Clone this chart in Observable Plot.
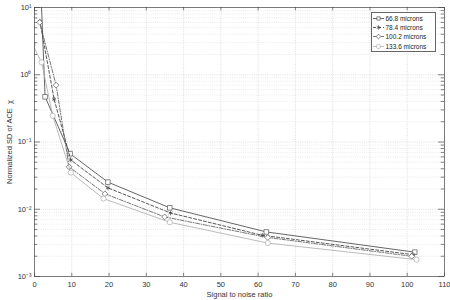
<!DOCTYPE html>
<html>
<head>
<meta charset="utf-8">
<script src="https://cdn.jsdelivr.net/npm/d3@7"></script>
<script src="https://cdn.jsdelivr.net/npm/@observablehq/plot@0.6"></script>
<style>
  html, body { margin: 0; padding: 0; background: #fff; }
  #wrap { position: relative; width: 450px; height: 300px; font-family: "Liberation Sans", Arial, sans-serif; }
  #legend { position: absolute; left: 371px; top: 12px; width: 63px; height: 38px; border: 1px solid #666; background: #fff; font-size: 6.5px; color: #222; }
  .lrow { position: absolute; left: 0; height: 9px; display: flex; align-items: center; }
  .lrow svg { margin-left: 1px; }
  .lrow span { margin-left: 1.5px; }
</style>
</head>
<body>
<div id="wrap"></div>
<script>
// ---- data ----
const seriesNames = ["66.8 microns", "78.4 microns", "100.2 microns", "133.6 microns"];
const snr66  = [1.6, 2.84, 9.55, 19.7, 36.3, 62.2, 102];
const sd66   = [25, 0.47, 0.067, 0.0253, 0.0105, 0.0046, 0.0023];
const snr78  = [1.44, 5.26, 9.73, 19.7, 36.5, 61.1, 101.6];
const sd78   = [6.25, 0.434, 0.054, 0.0208, 0.0088, 0.0041, 0.00211];
const snr100 = [1.4, 5.8, 9.28, 18.9, 34.9, 62.6, 101.2];
const sd100  = [6.0, 0.70, 0.0427, 0.017, 0.0077, 0.0038, 0.0020];
const snr133 = [-0.5, 1.9, 4.9, 9.75, 18.5, 36.3, 62.6, 102.5];
const sd133  = [2.8, 1.53, 0.245, 0.035, 0.0144, 0.0064, 0.00314, 0.00178];
const xTicks = [0, 10, 20, 30, 40, 50, 60, 70, 80, 90, 100, 110];
const yTicks = [1e-3, 1e-2, 1e-1, 1, 10];

const styles = [
  {stroke: "#555", dash: null, symbol: "square", width: 0.9},
  {stroke: "#444", dash: "3,2", symbol: "asterisk", width: 0.9},
  {stroke: "#555", dash: "4,1.5,1,1.5", symbol: "diamond2", width: 0.8},
  {stroke: "#aaa", dash: null, symbol: "circle", width: 0.8}
];
const xs = [snr66, snr78, snr100, snr133];
const ys = [sd66, sd78, sd100, sd133];
const tables = xs.map((x, i) => x.map((v, j) => ({snr: v, sd: ys[i][j], series: seriesNames[i]})));

const sup = {"-": "\u207B", "0": "\u2070", "1": "\u00B9", "2": "\u00B2", "3": "\u00B3"};
const fmt = d => "10" + String(Math.round(Math.log10(d))).split("").map(c => sup[c]).join("");
const minor = d3.scaleLog().domain([1e-3, 10]).ticks();
const isMajor = d => yTicks.some(t => Math.abs(t - d) / t < 1e-9);

const marks = [
  Plot.ruleX(xTicks.slice(1, -1), {stroke: "#c8c8c8", strokeDasharray: "1,1.2", strokeWidth: 0.6}),
  Plot.ruleY(minor.filter(d => !isMajor(d)), {stroke: "#dedede", strokeDasharray: "1,1.2", strokeWidth: 0.6}),
  Plot.ruleY(yTicks.slice(1, -1), {stroke: "#c8c8c8", strokeDasharray: "1,1.2", strokeWidth: 0.6}),
  Plot.axisX({ticks: xTicks, tickSize: 0, tickPadding: 5, label: "Signal to noise ratio", labelAnchor: "center", labelArrow: "none", labelOffset: 20, fontSize: 7.5}),
  Plot.axisY({ticks: yTicks, tickFormat: fmt, tickSize: 0, tickPadding: 3, label: "Normalized SD of ACE  \u03C7", labelAnchor: "center", labelArrow: "none", labelOffset: 28, fontSize: 7.5}),
  Plot.ruleX(xTicks, {x: d => d, y1: 1e-3, y2: 1e-3 * 1.12, stroke: "#333", strokeWidth: 0.6}),
  Plot.ruleX(xTicks, {x: d => d, y1: 10, y2: 10 / 1.12, stroke: "#333", strokeWidth: 0.6}),
  Plot.ruleY(minor, {y: d => d, x1: 0, x2: d => isMajor(d) ? 1.6 : 0.9, stroke: "#333", strokeWidth: 0.6}),
  Plot.ruleY(minor, {y: d => d, x1: 110, x2: d => isMajor(d) ? 108.4 : 109.1, stroke: "#333", strokeWidth: 0.6})
];
tables.forEach((t, i) => {
  const s = styles[i];
  marks.push(Plot.line(t, {x: "snr", y: "sd", stroke: s.stroke, strokeWidth: s.width, strokeDasharray: s.dash, clip: true}));
  marks.push(Plot.dot(t, {x: "snr", y: "sd", symbol: () => s.symbol, stroke: s.stroke, fill: i === 1 ? s.stroke : "white", strokeWidth: 0.7, r: i === 1 ? 2.2 : 2.6, clip: true}));
});
marks.push(Plot.frame({stroke: "#444", strokeWidth: 0.7}));

const chart = Plot.plot({
  width: 450, height: 300,
  marginLeft: 34, marginRight: 6, marginTop: 7, marginBottom: 24,
  style: {fontFamily: "'Liberation Sans', Arial, sans-serif", fontSize: "7.5px", color: "#333", background: "white"},
  x: {domain: [0, 110]},
  y: {type: "log", domain: [1e-3, 10]},
  marks
});
const wrap = document.getElementById("wrap");
wrap.appendChild(chart);

// legend
const leg = d3.select(wrap).append("div").attr("id", "legend");
seriesNames.forEach((name, i) => {
  const s = styles[i];
  const row = leg.append("div").attr("class", "lrow").style("top", (0.5 + i * 9.4) + "px");
  const svg = row.append("svg").attr("width", 11).attr("height", 9);
  svg.append("line").attr("x1", 0).attr("x2", 11).attr("y1", 4.5).attr("y2", 4.5)
    .attr("stroke", s.stroke).attr("stroke-width", s.width).attr("stroke-dasharray", s.dash);
  const sym = {square: d3.symbolSquare2, asterisk: d3.symbolAsterisk, diamond2: d3.symbolDiamond2, circle: d3.symbolCircle}[s.symbol];
  svg.append("path").attr("transform", "translate(5.5,4.5)")
    .attr("d", d3.symbol(sym, i === 1 ? 12 : 14)())
    .attr("fill", i === 1 ? s.stroke : "white").attr("stroke", s.stroke).attr("stroke-width", 0.7);
  row.append("span").text(name);
});
</script>
</body>
</html>
